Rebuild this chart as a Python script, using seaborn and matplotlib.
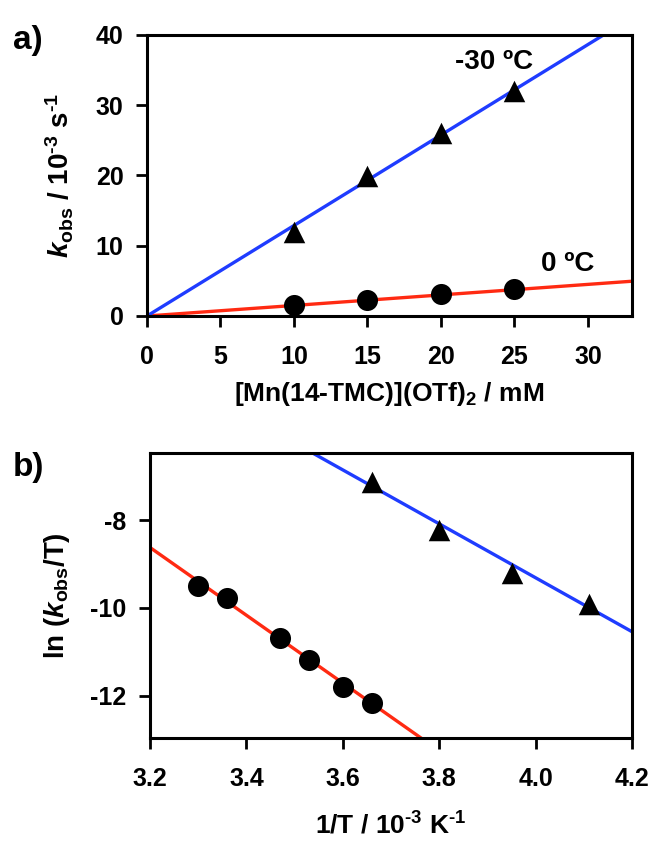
import numpy as np
import pandas as pd
import matplotlib
matplotlib.use("Agg")
import matplotlib.pyplot as plt
import seaborn as sns

# ---- data (panel a) ----
conc_mM = [10, 15, 20, 25]
kobs_m30 = [12.0, 19.9, 26.0, 32.0]   # -30 ºC, 10^-3 s^-1
kobs_0 = [1.55, 2.25, 3.1, 3.8]       # 0 ºC
fit_a_slope = {"m30": 1.288, "0": 0.150}
fit_a_intercept = {"m30": 0.0, "0": 0.0}

# ---- data (panel b) ----
invT_circ = [3.30, 3.36, 3.47, 3.53, 3.60, 3.66]
lnk_circ = [-9.50, -9.78, -10.69, -11.18, -11.80, -12.18]
invT_tri = [3.66, 3.80, 3.95, 4.11]
lnk_tri = [-7.12, -8.23, -9.19, -9.92]
fit_b_slope = {"circ": -7.74, "tri": -6.16}
fit_b_intercept = {"circ": 16.15, "tri": 15.33}

xticks_a = [0, 5, 10, 15, 20, 25, 30]
yticks_a = [0, 10, 20, 30, 40]
xticks_b = [3.2, 3.4, 3.6, 3.8, 4.0, 4.2]
yticks_b = [-12, -10, -8]

sns.set_theme(style="ticks")
FONT = ["Liberation Sans", "DejaVu Sans"]
plt.rcParams["font.family"] = FONT
plt.rcParams["font.weight"] = "bold"
plt.rcParams["axes.unicode_minus"] = False
plt.rcParams["mathtext.fontset"] = "custom"
plt.rcParams["mathtext.rm"] = "Liberation Sans:bold"
plt.rcParams["mathtext.bf"] = "Liberation Sans:bold"
plt.rcParams["mathtext.it"] = "Liberation Sans:bold:italic"
plt.rcParams["mathtext.default"] = "bf"
for k in ("text.color", "axes.labelcolor", "xtick.color", "ytick.color", "axes.edgecolor"):
    plt.rcParams[k] = "black"

BLUE = "#1f3cff"
RED = "#ff2a12"
TICK_FS = 18
LAB_FS = 19

fig = plt.figure(figsize=(6.48, 8.42), dpi=100)
W, H = 648, 842
def ax_rect(l, t, r, b):
    return [l / W, 1 - b / H, (r - l) / W, (b - t) / H]

ax1 = fig.add_axes(ax_rect(147, 35, 632, 316))
ax2 = fig.add_axes(ax_rect(150, 453, 632, 738))

def style(ax):
    for s in ax.spines.values():
        s.set_linewidth(2.2)
        s.set_color("black")
    ax.tick_params(axis="both", which="major", direction="out", length=8, width=2,
                   labelsize=TICK_FS, color="black", labelcolor="black", pad=9)
    ax.tick_params(axis="x", pad=13)
    ax.tick_params(top=False, right=False)
    for lab in ax.get_xticklabels() + ax.get_yticklabels():
        lab.set_fontweight("bold")
        lab.set_family(FONT)

# ---- panel a ----
xlim_a = (0, 33)
ylim_a = (0, 40)
xs = np.array(xlim_a, dtype=float)
for key, col in (("0", RED), ("m30", BLUE)):
    ys = fit_a_intercept[key] + fit_a_slope[key] * xs
    sns.lineplot(x=xs, y=ys, ax=ax1, color=col, lw=2.4, zorder=2)
sns.scatterplot(x=conc_mM, y=kobs_m30, ax=ax1, marker="^", s=240, color="black",
                edgecolor="black", linewidth=0, zorder=3)
sns.scatterplot(x=conc_mM, y=kobs_0, ax=ax1, marker="o", s=230, color="black",
                edgecolor="black", linewidth=0, zorder=3)
ax1.set_xlim(*xlim_a)
ax1.set_ylim(*ylim_a)
ax1.set_xticks(xticks_a)
ax1.set_yticks(yticks_a)
ax1.set_xlabel(r"[Mn(14-TMC)](OTf)$_{\mathbf{2}}$ / mM", fontsize=LAB_FS, fontweight="bold", labelpad=8)
ax1.set_ylabel(r"$\mathit{k}_{\mathbf{obs}}$ / 10$^{\text{-3}}$ s$^{\text{-1}}$", fontsize=LAB_FS + 1,
               fontweight="bold", labelpad=14)
ax1.text(23.6, 36.1, "-30 ºC", fontsize=20, fontweight="bold", ha="center", va="center")
ax1.text(28.6, 7.4, "0 ºC", fontsize=20, fontweight="bold", ha="center", va="center")
style(ax1)

# ---- panel b ----
xlim_b = (3.2, 4.2)
ylim_b = (-12.97, -6.46)
xb = np.array(xlim_b, dtype=float)
for key, col in (("circ", RED), ("tri", BLUE)):
    yb = fit_b_intercept[key] + fit_b_slope[key] * xb
    sns.lineplot(x=xb, y=yb, ax=ax2, color=col, lw=2.4, zorder=2)
sns.scatterplot(x=invT_tri, y=lnk_tri, ax=ax2, marker="^", s=240, color="black",
                edgecolor="black", linewidth=0, zorder=3)
sns.scatterplot(x=invT_circ, y=lnk_circ, ax=ax2, marker="o", s=230, color="black",
                edgecolor="black", linewidth=0, zorder=3)
ax2.set_xlim(*xlim_b)
ax2.set_ylim(*ylim_b)
ax2.set_xticks(xticks_b)
ax2.set_xticklabels([f"{v:.1f}" for v in xticks_b])
ax2.set_yticks(yticks_b)
ax2.set_xlabel(r"1/T / 10$^{\text{-3}}$ K$^{\text{-1}}$", fontsize=LAB_FS, fontweight="bold", labelpad=15)
ax2.set_ylabel(r"ln ($\mathit{k}_{\mathbf{obs}}$/T)", fontsize=LAB_FS + 1, fontweight="bold", labelpad=13)
style(ax2)

fig.text(13 / W, 1 - 40 / H, "a)", fontsize=24, fontweight="bold", va="center", ha="left")
fig.text(13 / W, 1 - 468 / H, "b)", fontsize=24, fontweight="bold", va="center", ha="left")

fig.savefig("out.png", dpi=100, facecolor="white")
